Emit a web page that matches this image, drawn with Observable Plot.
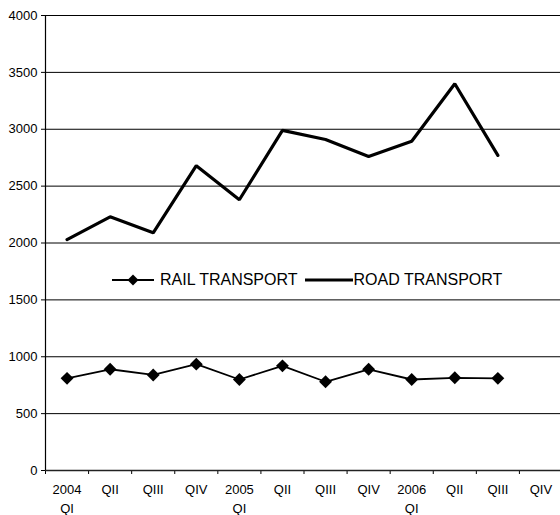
<!DOCTYPE html>
<html>
<head>
<meta charset="utf-8">
<script src="https://cdn.jsdelivr.net/npm/d3@7"></script>
<script src="https://cdn.jsdelivr.net/npm/@observablehq/plot@0.6"></script>
<style>
  html, body { margin: 0; padding: 0; background: #fff; }
  #wrap { position: relative; width: 560px; height: 515px; overflow: hidden; font-family: "Liberation Sans", Arial, sans-serif; }
  #legend { position: absolute; left: 112px; top: 268px; height: 24px; display: flex; align-items: center; font-size: 16px; color: #000; white-space: nowrap; }
  #legend .item { display: flex; align-items: center; }
</style>
</head>
<body>
<div id="wrap"></div>
<script>
const categories = ["2004\nQI", "QII", "QIII", "QIV", "2005\nQI", "QII", "QIII", "QIV", "2006\nQI", "QII", "QIII", "QIV"];
const railTransport = [810, 890, 840, 935, 800, 920, 780, 890, 800, 815, 810];
const roadTransport = [2030, 2230, 2090, 2680, 2380, 2990, 2910, 2760, 2895, 3400, 2770];
const yTicks = [0, 500, 1000, 1500, 2000, 2500, 3000, 3500, 4000];
const seriesNames = ["RAIL TRANSPORT", "ROAD TRANSPORT"];

const railData = railTransport.map((v, i) => ({i: i + 0.5, v}));
const roadData = roadTransport.map((v, i) => ({i: i + 0.5, v}));
const catData = categories.map((c, i) => ({i: i + 0.5, c}));
const boundaries = d3.range(categories.length + 1);

const chart = Plot.plot({
  width: 560,
  height: 515,
  marginTop: 15,
  marginBottom: 45,
  marginLeft: 45,
  marginRight: 0,
  style: {fontFamily: "Liberation Sans, Arial, sans-serif", fontSize: "13px", color: "#000", background: "#fff", overflow: "visible"},
  x: {type: "linear", domain: [0, categories.length], range: [45, 562], ticks: boundaries, tickSize: 4, tickFormat: () => "", label: null},
  y: {domain: [0, 4000], ticks: yTicks, tickSize: 4, tickPadding: 4, tickFormat: d3.format("d"), label: null},
  marks: [
    Plot.ruleY(yTicks.filter(d => d > 0), {stroke: "#000", strokeWidth: 1}),
    Plot.ruleY([0], {stroke: "#222", strokeWidth: 1.5}),
    Plot.ruleX([0], {stroke: "#000", strokeWidth: 1.2}),
    Plot.text(catData, {x: "i", text: "c", frameAnchor: "bottom", lineAnchor: "top", dy: 10.5, lineHeight: 1.45, fontSize: 13, fill: "#000"}),
    Plot.line(roadData, {x: "i", y: "v", stroke: "#000", strokeWidth: 3.2, strokeLinejoin: "miter"}),
    Plot.line(railData, {x: "i", y: "v", stroke: "#000", strokeWidth: 1.8}),
    Plot.dot(railData, {x: "i", y: "v", symbol: "diamond2", r: 5.8, fill: "#000", stroke: "none"})
  ]
});

const wrap = document.getElementById("wrap");
wrap.appendChild(chart);

const legend = document.createElement("div");
legend.id = "legend";
legend.innerHTML = `
  <span class="item">
    <svg width="42" height="16" style="display:block"><line x1="0" y1="8" x2="42" y2="8" stroke="#000" stroke-width="1.8"/><path d="M21,2.5 L26.5,8 L21,13.5 L15.5,8 Z" fill="#000"/></svg>
    <span style="margin-left:6px">${seriesNames[0]}</span>
  </span>
  <span class="item" style="margin-left:7px">
    <svg width="48" height="16" style="display:block"><line x1="0" y1="8" x2="48" y2="8" stroke="#000" stroke-width="3.2"/></svg>
    <span style="margin-left:1px">${seriesNames[1]}</span>
  </span>`;
wrap.appendChild(legend);
</script>
</body>
</html>
